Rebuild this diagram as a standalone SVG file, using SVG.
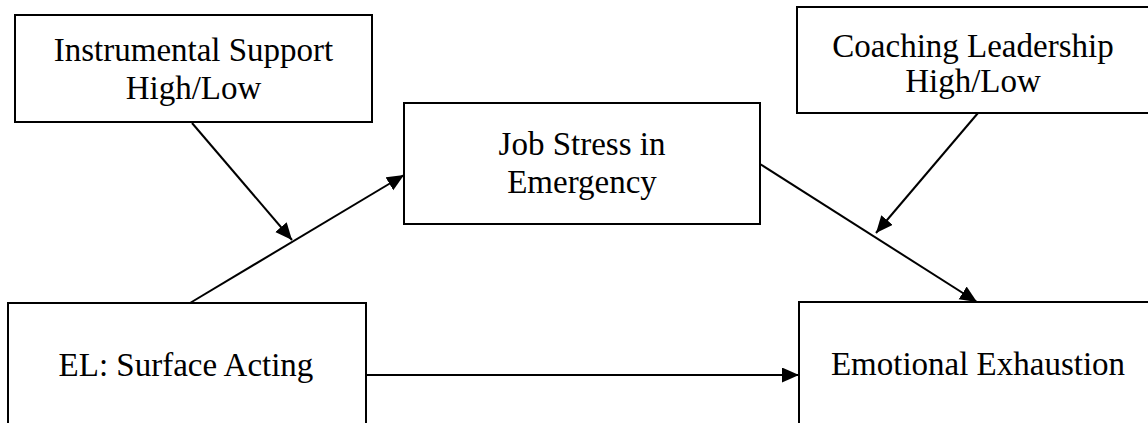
<svg xmlns="http://www.w3.org/2000/svg" width="1148" height="423" viewBox="0 0 1148 423">
<style>
.box{fill:#fff;stroke:#000;stroke-width:2}
.t{font-family:"Liberation Serif","Times New Roman",serif;font-size:33px;fill:#000;text-anchor:middle}
.c{stroke:#000;stroke-width:2;fill:none;marker-end:url(#ah)}
</style>
<defs>
<marker id="ah" markerUnits="userSpaceOnUse" markerWidth="18" markerHeight="16" refX="17" refY="7.5" orient="auto">
<path d="M0,0 L17,7.5 L0,15 z" fill="#000"/>
</marker>
</defs>
<rect width="1148" height="423" fill="#fff"/>
<g id="connectors">
<line class="c" x1="190" y1="303" x2="404" y2="175"/>
<line class="c" x1="192" y1="123" x2="292" y2="240"/>
<line class="c" x1="760" y1="164" x2="977" y2="302"/>
<line class="c" x1="978" y1="113" x2="876" y2="233"/>
<line class="c" x1="366" y1="375" x2="799" y2="375"/>
</g>
<g id="instrumental">
<rect class="box" x="15" y="15" width="357" height="107"/>
<text class="t" x="193.5" y="61">Instrumental Support</text>
<text class="t" x="193.5" y="99">High/Low</text>
</g>
<g id="coaching">
<rect class="box" x="797" y="7" width="362" height="106"/>
<text class="t" x="973" y="57">Coaching Leadership</text>
<text class="t" x="973" y="92">High/Low</text>
</g>
<g id="jobstress">
<rect class="box" x="404" y="103" width="356" height="121"/>
<text class="t" x="582" y="155">Job Stress in</text>
<text class="t" x="582" y="193">Emergency</text>
</g>
<g id="surface">
<rect class="box" x="8" y="303" width="358" height="130"/>
<text class="t" x="186" y="376">EL: Surface Acting</text>
</g>
<g id="exhaustion">
<rect class="box" x="799" y="302" width="360" height="131"/>
<text class="t" x="978" y="375">Emotional Exhaustion</text>
</g>
</svg>
